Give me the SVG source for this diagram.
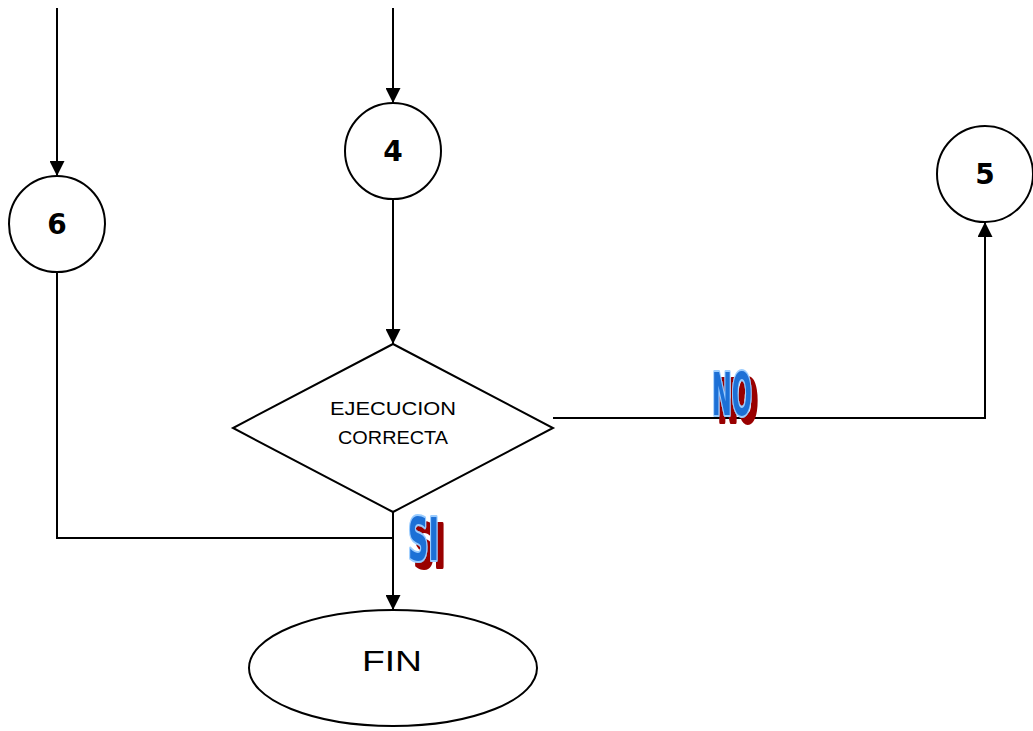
<svg xmlns="http://www.w3.org/2000/svg" width="1033" height="731" viewBox="0 0 1033 731">
<defs>
<style>
.shape{fill:#fff;stroke:#000;stroke-width:2}
.conn{fill:none;stroke:#000;stroke-width:2}
.num{font-family:"DejaVu Sans","Liberation Sans",sans-serif;font-weight:bold;font-size:28px;text-anchor:middle}
.lbl{font-family:"Liberation Sans",sans-serif;font-size:18px;text-anchor:middle}
.fin{font-family:"Liberation Sans",sans-serif;font-size:30px;text-anchor:middle}
.wa{font-family:"Liberation Sans Narrow","DejaVu Sans Condensed",sans-serif;font-weight:bold;font-size:58px;fill:#1f6fd6;stroke:#99ccff;stroke-width:4;paint-order:stroke;stroke-linejoin:round;filter:url(#shadow)}
</style>
<filter id="shadow" x="-20%" y="-20%" width="160%" height="160%">
<feDropShadow dx="6" dy="7" stdDeviation="0" flood-color="#990000" flood-opacity="1"/>
</filter>
<marker id="arr" viewBox="0 0 15 15" refX="15" refY="7.5" markerWidth="15" markerHeight="15" markerUnits="userSpaceOnUse" orient="auto">
<path d="M0,0 L15,7.5 L0,15 Z" fill="#000"/>
</marker>
</defs>
<g id="connectors">
<line class="conn" x1="57" y1="8" x2="57" y2="176" marker-end="url(#arr)"/>
<line class="conn" x1="393" y1="8" x2="393" y2="103" marker-end="url(#arr)"/>
<line class="conn" x1="393" y1="199" x2="393" y2="344" marker-end="url(#arr)"/>
<polyline class="conn" points="553,418 985,418 985,222" marker-end="url(#arr)"/>
<polyline class="conn" points="57,272 57,538 393,538"/>
<line class="conn" x1="393" y1="512" x2="393" y2="610" marker-end="url(#arr)"/>
</g>
<g id="node6">
<circle class="shape" cx="57" cy="224" r="48"/>
<text class="num" x="57" y="234">6</text>
</g>
<g id="node4">
<circle class="shape" cx="393" cy="151" r="48"/>
<text class="num" x="393" y="161">4</text>
</g>
<g id="node5">
<circle class="shape" cx="985" cy="174" r="48"/>
<text class="num" x="985" y="184">5</text>
</g>
<g id="decision">
<polygon class="shape" points="393,344 553,428 393,512 233,428"/>
<text class="lbl" x="393" y="415" textLength="126" lengthAdjust="spacingAndGlyphs">EJECUCION</text>
<text class="lbl" x="393" y="444" textLength="110" lengthAdjust="spacingAndGlyphs">CORRECTA</text>
</g>
<g id="fin">
<ellipse class="shape" cx="393" cy="668" rx="144" ry="58"/>
<text class="fin" x="392" y="671" textLength="60" lengthAdjust="spacingAndGlyphs">FIN</text>
</g>
<g id="label-no">
<text class="wa" x="712" y="415" textLength="40" lengthAdjust="spacingAndGlyphs">NO</text>
</g>
<g id="label-si">
<text class="wa" x="408" y="560" textLength="31" lengthAdjust="spacingAndGlyphs">SI</text>
</g>
</svg>
